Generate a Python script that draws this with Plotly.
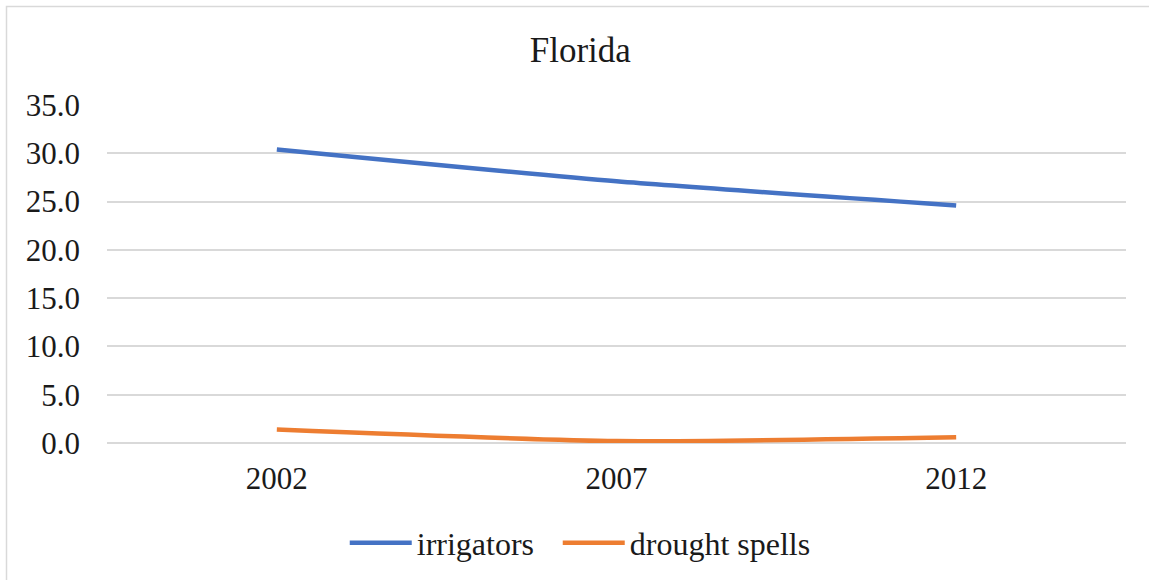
import plotly.graph_objects as go

# Florida: irrigators vs drought spells by census year
years = ["2002", "2007", "2012"]
irrigators = [30.4, 27.1, 24.6]
drought_spells = [1.4, 0.2, 0.6]
y_ticks = [0, 5, 10, 15, 20, 25, 30, 35]

FONT = "Liberation Serif, Times New Roman, serif"
TEXT = "#1a1a1a"
GRID = "#d9d9d9"

W, H = 1149, 580
L, R, T, B = 107, 23, 105, 137
pw, ph = W - L - R, H - T - B

fig = go.Figure()
fig.add_trace(go.Scatter(
    x=years, y=irrigators, name="irrigators", mode="lines",
    line=dict(color="#4472C4", width=4.5, shape="spline", smoothing=0.6),
    legendwidth=136,
))
fig.add_trace(go.Scatter(
    x=years, y=drought_spells, name="drought spells", mode="lines",
    line=dict(color="#ED7D31", width=4.5, shape="spline", smoothing=0.6),
))

# light outer frame around the chart area
def px_x(v):
    return (v - L) / pw

def px_y(v):
    return (H - B - v) / ph

fig.add_shape(
    type="rect", xref="paper", yref="paper",
    x0=px_x(6.5), x1=px_x(W + 20), y0=px_y(6.5), y1=px_y(H + 20),
    line=dict(color=GRID, width=1.5), fillcolor="rgba(0,0,0,0)", layer="below",
)

fig.update_layout(
    width=W, height=H,
    margin=dict(l=L, r=R, t=T, b=B),
    paper_bgcolor="white", plot_bgcolor="white",
    font=dict(family=FONT, color=TEXT, size=31),
    title=dict(text="Florida", font=dict(family=FONT, size=35, color=TEXT),
               xref="container", x=0.505, xanchor="center",
               yref="container", y=1 - 50 / H, yanchor="middle"),
    showlegend=True,
    legend=dict(orientation="h", xref="container", yref="container",
                x=0.505, xanchor="center", y=(H - 543) / H, yanchor="middle",
                font=dict(family=FONT, size=32, color=TEXT),
                itemwidth=62, tracegroupgap=0, bgcolor="rgba(0,0,0,0)"),
    xaxis=dict(type="category", range=[-0.5, 2.5], showgrid=False,
               showline=False, zeroline=False, ticks="",
               ticklabelstandoff=14,
               tickfont=dict(family=FONT, size=31, color=TEXT)),
    yaxis=dict(range=[0, 35], tickvals=y_ticks, tickformat=".1f",
               showgrid=True, gridcolor=GRID, gridwidth=1.5,
               zeroline=True, zerolinecolor=GRID, zerolinewidth=1.5,
               showline=False, ticks="", ticklabelstandoff=26,
               tickfont=dict(family=FONT, size=31, color=TEXT)),
)

fig.write_html("out.html")
